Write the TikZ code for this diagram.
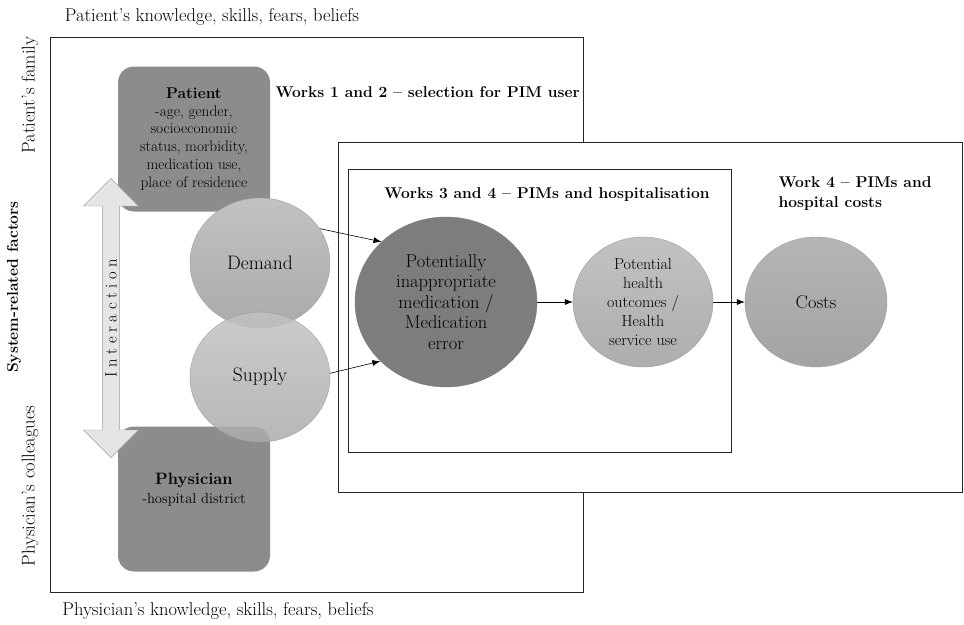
\documentclass[tikz,border=0pt]{standalone}
\usepackage{fontspec}
\usetikzlibrary{shapes.geometric,shapes.arrows,arrows.meta}
\definecolor{boxgray}{gray}{0.55}
\definecolor{pimgray}{gray}{0.49}
\definecolor{rimgray}{gray}{0.62}
\definecolor{arrowfill}{gray}{0.9}
\newcommand{\gap}{\hspace{4.6pt}}
\tikzset{
  frame/.style={draw=black!85, line width=1pt},
  actor/.style={rounded corners=16pt, fill=boxgray, minimum width=152pt, minimum height=145pt, inner sep=0pt},
  bubble/.style={ellipse, draw=rimgray, inner sep=0pt, align=center, font=\fontsize{18.5}{20.5}\selectfont},
  flow/.style={-{Latex[length=8pt,width=6pt]}, line width=0.6pt},
  heading/.style={font=\bfseries\fontsize{15.6}{20}\selectfont, align=left},
  side/.style={font=\fontsize{18.5}{20}\selectfont}
}
\begin{document}
\begin{tikzpicture}[x=1pt,y=-1pt]
\useasboundingbox (0,0) rectangle (964,624);
\node[side] (patknow) at (212,17) {Patient’s knowledge, skills, fears, beliefs};
\node[side] (phyknow) at (218,611) {Physician’s knowledge, skills, fears, beliefs};
\node[side, rotate=90] (family) at (30,95) {Patient’s family};
\node[side, rotate=90] (colleagues) at (30,486) {Physician’s colleagues};
\node[font=\bfseries\fontsize{15.6}{18}\selectfont, rotate=90] (system) at (14,287) {System-related factors};
\draw[frame] (50,37) rectangle (583,592);
\draw[frame, fill=white] (338,142) rectangle (962,492);
\draw[frame] (348,169) rectangle (731,452);
\node[heading, anchor=west] (works12) at (272,92) {Works 1 and 2 -- selection for PIM user};
\node[heading] (works34) at (547,195) {Works 3 and 4 -- PIMs and hospitalisation};
\node[heading, anchor=north west] (work4) at (775,173) {Work 4 -- PIMs and\\hospital costs};
\node[actor, align=center, font=\fontsize{15.3}{17.7}\selectfont] (patient) at (194,139)
  {{\bfseries\fontsize{15.5}{17.7}\selectfont Patient}\\-age, gender,\\socioeconomic\\status, morbidity,\\medication use,\\place of residence};
\node[actor] (physician) at (194,499) {};
\node[align=center, font=\fontsize{14.6}{19}\selectfont] (physiciantext) at (194,490)
  {{\bfseries\fontsize{16.5}{19}\selectfont Physician}\\-hospital district};
\node[bubble, minimum width=140pt, minimum height=130pt, top color=black!24, bottom color=black!33,
  font=\fontsize{19.5}{20}\selectfont] (demand) at (260,263) {Demand};
\node[bubble, minimum width=140pt, minimum height=130pt, top color=black!24, bottom color=black!33,
  fill opacity=0.85, text opacity=1, font=\fontsize{19.5}{20}\selectfont] (supply) at (260,377) {Supply};
\node[double arrow, draw=rimgray, fill=arrowfill, rotate=90, minimum height=279pt, minimum width=55pt,
  double arrow head extend=13pt, double arrow tip angle=90, inner sep=0pt,
  font=\fontsize{16.5}{18}\selectfont] (interaction) at (111,318)
  {I\gap n\gap t\gap e\gap r\gap a\gap c\gap t\gap i\gap o\gap n};
\node[bubble, minimum width=182pt, minimum height=170pt, fill=pimgray, draw=pimgray] (pim) at (446,302)
  {Potentially\\inappropriate\\medication /\\Medication\\error};
\node[bubble, minimum width=140pt, minimum height=130pt, top color=black!24, bottom color=black!32,
  font=\fontsize{16}{19}\selectfont] (outcomes) at (643,302)
  {Potential\\health\\outcomes /\\Health\\service use};
\node[bubble, minimum width=142pt, minimum height=130pt, top color=black!29, bottom color=black!36] (costs) at (816,302) {Costs};
\draw[flow] (demand.30) -- (pim.137);
\draw[flow] (supply.3) -- (pim.222);
\draw[flow] (pim) -- (outcomes);
\draw[flow] (outcomes) -- (costs);
\end{tikzpicture}
\end{document}
